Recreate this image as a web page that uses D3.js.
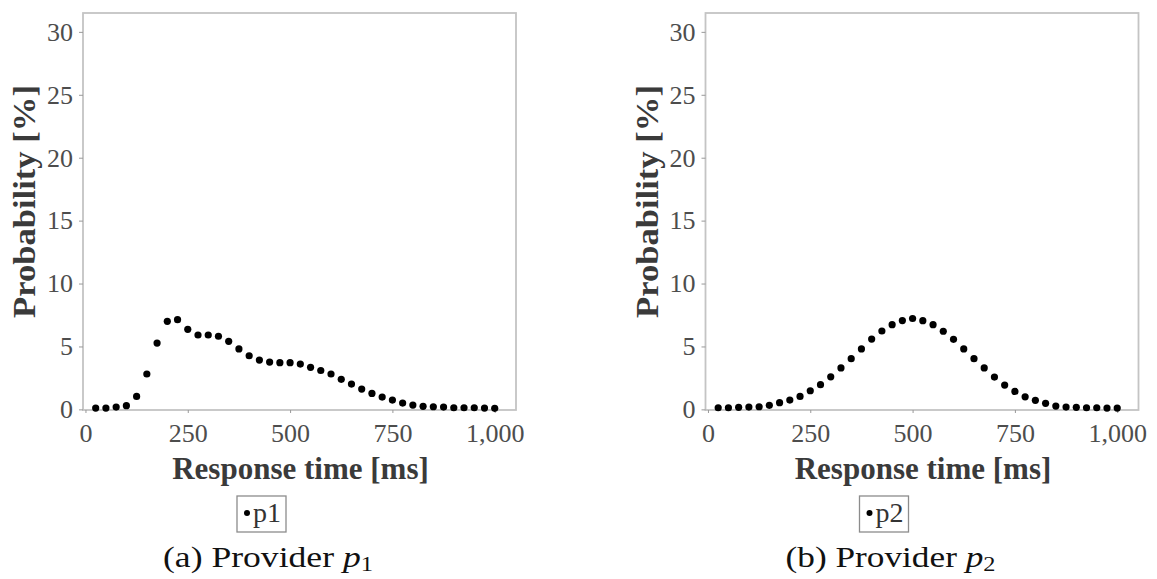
<!DOCTYPE html>
<html>
<head>
<meta charset="utf-8">
<script src="https://cdn.jsdelivr.net/npm/d3@7"></script>
<style>
  html, body { margin: 0; padding: 0; background: #fff; }
  svg { display: block; }
</style>
</head>
<body>
<svg id="chart" width="1157" height="579"></svg>
<script>
// Response-time grid (ms) shared by both providers
const responseTimes = d3.range(25, 1001, 25);

// Probability (%) of each response time for provider p1
const p1Values = [
  0.1, 0.1, 0.18, 0.29, 1.03, 2.81, 5.27, 7.0, 7.13, 6.36,
  5.91, 5.91, 5.81, 5.41, 4.8, 4.26, 3.92, 3.76, 3.71, 3.71,
  3.6, 3.34, 3.09, 2.81, 2.39, 2.01, 1.61, 1.27, 0.98, 0.74,
  0.5, 0.34, 0.24, 0.21, 0.18, 0.13, 0.13, 0.13, 0.1, 0.08
];

// Probability (%) of each response time for provider p2
const p2Values = [
  0.13, 0.13, 0.16, 0.18, 0.21, 0.32, 0.53, 0.74, 1.03, 1.48,
  1.96, 2.59, 3.29, 4.03, 4.8, 5.59, 6.23, 6.73, 7.06, 7.22,
  7.05, 6.73, 6.21, 5.57, 4.8, 4.03, 3.29, 2.57, 1.93, 1.43,
  1.0, 0.72, 0.48, 0.26, 0.18, 0.16, 0.13, 0.13, 0.1, 0.1
];

const xTicks = [0, 250, 500, 750, 1000];
const yTicks = [0, 5, 10, 15, 20, 25, 30];
const xTitle = "Response time [ms]";
const yTitle = "Probability [%]";

const panels = [
  { series: "p1", values: p1Values, letter: "(a)", sub: "1", left: 83 },
  { series: "p2", values: p2Values, letter: "(b)", sub: "2", left: 705.5 }
];

const svg = d3.select("#chart");
const serif = "'Liberation Serif', 'Times New Roman', serif";
const frameColor = "#c4c4c4";
const tickText = "#4d4d4d";
const titleText = "#3a3a3a";

const plotW = 433, plotTop = 13, plotBottom = 410;

panels.forEach(p => {
  const x = d3.scaleLinear().domain([-6, 1052]).range([p.left, p.left + plotW]);
  const y = d3.scaleLinear().domain([-0.05, 31.5]).range([plotBottom, plotTop]);
  const g = svg.append("g");

  // panel frame
  g.append("rect")
    .attr("x", x.range()[0]).attr("y", plotTop)
    .attr("width", plotW).attr("height", plotBottom - plotTop)
    .attr("fill", "none").attr("stroke", frameColor).attr("stroke-width", 1.8);

  // y axis
  const yAxis = g.append("g")
    .attr("transform", `translate(${p.left},0)`)
    .call(d3.axisLeft(y).tickValues(yTicks).tickSize(4).tickPadding(6));
  yAxis.select(".domain").remove();
  yAxis.selectAll(".tick line").attr("stroke", "#999");
  yAxis.selectAll(".tick text")
    .attr("fill", tickText).style("font-family", serif).style("font-size", "26px");

  // x axis
  const xAxis = g.append("g")
    .attr("transform", `translate(0,${plotBottom})`)
    .call(d3.axisBottom(x).tickValues(xTicks).tickFormat(d3.format(",")).tickSize(3).tickPadding(11));
  xAxis.select(".domain").remove();
  xAxis.selectAll(".tick line").attr("stroke", "#999");
  xAxis.selectAll(".tick text")
    .attr("fill", tickText).style("font-family", serif).style("font-size", "26px");

  // data points
  g.append("g").selectAll("circle")
    .data(p.values)
    .join("circle")
    .attr("cx", (d, i) => x(responseTimes[i]))
    .attr("cy", d => y(d))
    .attr("r", 3.6)
    .attr("fill", "#000");

  // axis titles
  const cx = p.left + plotW / 2 + 1;
  g.append("text")
    .attr("x", cx).attr("y", 479)
    .attr("text-anchor", "middle")
    .attr("fill", titleText)
    .style("font-family", serif).style("font-weight", "bold").style("font-size", "31px")
    .text(xTitle);

  g.append("text")
    .attr("transform", `translate(${p.left - 48},${201.5}) rotate(-90)`)
    .attr("text-anchor", "middle")
    .attr("textLength", 233)
    .attr("lengthAdjust", "spacingAndGlyphs")
    .attr("fill", titleText)
    .style("font-family", serif).style("font-weight", "bold").style("font-size", "31px")
    .text(yTitle);

  // legend
  const lx = p.left + 154, ly = 496;
  const lg = g.append("g").attr("transform", `translate(${lx},${ly})`);
  lg.append("rect")
    .attr("width", 49).attr("height", 36)
    .attr("fill", "#fff").attr("stroke", "#8c8c8c").attr("stroke-width", 1.3);
  lg.append("circle").attr("cx", 10).attr("cy", 17).attr("r", 3).attr("fill", "#000");
  lg.append("text")
    .attr("x", 16).attr("y", 26)
    .attr("fill", "#333")
    .style("font-family", serif).style("font-size", "28px")
    .text(p.series);

  // caption
  const cap = g.append("text")
    .attr("x", p.left + 185).attr("y", 567)
    .attr("text-anchor", "middle")
    .attr("textLength", 210)
    .attr("lengthAdjust", "spacingAndGlyphs")
    .attr("fill", "#111")
    .style("font-family", serif).style("font-size", "29px");
  cap.append("tspan").text(`${p.letter} Provider `);
  cap.append("tspan").style("font-style", "italic").text("p");
  cap.append("tspan").attr("dy", 4).style("font-size", "20px").text(p.sub);
});
</script>
</body>
</html>
